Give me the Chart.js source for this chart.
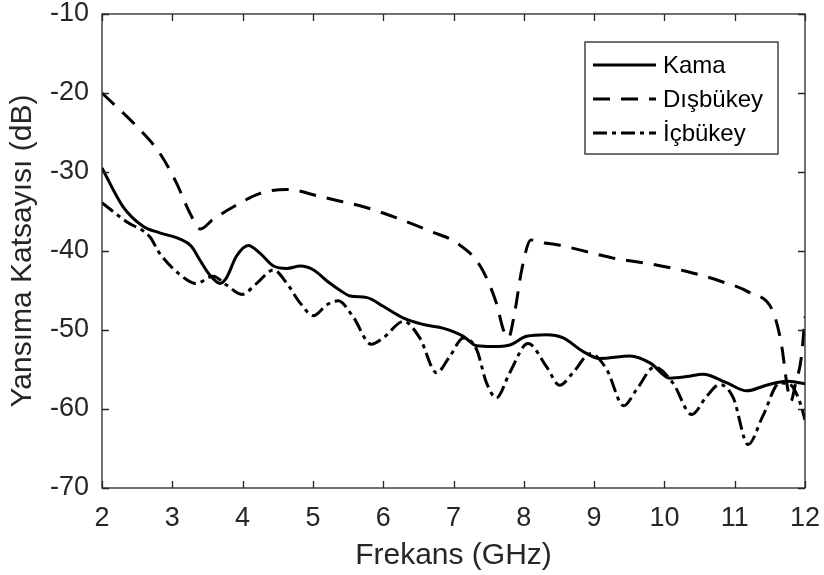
<!DOCTYPE html>
<html>
<head>
<meta charset="utf-8">
<script src="https://cdn.jsdelivr.net/npm/chart.js@4.4.1/dist/chart.umd.min.js"></script>
<style>
  html, body { margin: 0; padding: 0; background: #fff; }
  #wrap { width: 824px; height: 575px; }
</style>
</head>
<body>
<div id="wrap"><canvas id="grafik"></canvas></div>
<script>
/* Veriler */

const seriesNames = ["Kama", "Dışbükey", "İçbükey"];

const kamaFreq = [2.00, 2.30, 2.59, 2.82, 3.11, 3.27, 3.39, 3.53, 3.68, 3.77, 3.91, 4.08, 4.25, 4.44, 4.63, 4.82, 5.01, 5.20, 5.39, 5.53, 5.77, 6.00, 6.29, 6.57, 6.86, 7.14, 7.33, 7.56, 7.80, 8.04, 8.32, 8.56, 8.84, 9.08, 9.51, 9.80, 10.08, 10.32, 10.55, 10.89, 11.17, 11.45, 11.74, 12.00];
const kamaDb = [-29.5, -34.4, -36.9, -37.7, -38.5, -39.4, -41.1, -43.0, -44.1, -43.4, -40.7, -39.3, -40.3, -41.9, -42.2, -41.9, -42.4, -43.8, -45.0, -45.7, -45.9, -47.0, -48.5, -49.3, -49.8, -50.8, -52.0, -52.1, -51.9, -50.8, -50.6, -51.0, -52.7, -53.6, -53.3, -54.2, -56.1, -55.9, -55.6, -56.7, -57.7, -57.0, -56.5, -56.8];

const disFreq = [2.00, 2.49, 2.82, 3.06, 3.25, 3.40, 3.58, 3.87, 4.25, 4.63, 5.10, 5.39, 5.72, 6.19, 6.67, 7.05, 7.38, 7.61, 7.71, 7.78, 7.87, 7.97, 8.10, 8.30, 8.47, 8.99, 9.27, 9.84, 10.32, 10.79, 11.22, 11.55, 11.67, 11.74, 11.80, 11.86, 11.95, 12.00];
const disDb = [-20.0, -24.2, -27.6, -31.4, -35.2, -37.2, -36.0, -34.4, -32.7, -32.2, -33.1, -33.7, -34.4, -35.8, -37.5, -39.0, -41.9, -46.6, -50.0, -51.0, -47.8, -42.4, -38.6, -39.0, -39.2, -40.3, -40.9, -41.7, -42.6, -43.8, -45.3, -47.8, -52.1, -56.7, -59.0, -57.0, -53.3, -48.3];

const icFreq = [2.00, 2.35, 2.68, 2.82, 3.20, 3.34, 3.58, 3.77, 3.99, 4.20, 4.44, 4.63, 4.82, 5.01, 5.20, 5.36, 5.57, 5.83, 6.00, 6.29, 6.52, 6.76, 6.95, 7.14, 7.33, 7.47, 7.61, 7.80, 8.06, 8.32, 8.51, 8.70, 8.95, 9.18, 9.42, 9.60, 9.86, 10.12, 10.39, 10.60, 10.79, 10.98, 11.19, 11.40, 11.64, 11.79, 11.93, 12.00];
const icDb = [-33.9, -36.3, -38.2, -40.3, -43.6, -44.1, -43.2, -44.3, -45.5, -44.1, -42.4, -44.1, -46.6, -48.2, -46.8, -46.3, -48.3, -51.8, -51.0, -48.9, -51.0, -55.4, -53.3, -51.0, -52.5, -56.7, -58.6, -55.4, -51.7, -54.6, -57.0, -55.4, -53.0, -55.0, -59.6, -57.6, -54.7, -56.7, -60.7, -58.4, -56.9, -58.6, -64.5, -60.9, -56.7, -56.9, -59.2, -61.4];

const xTicks = [2, 3, 4, 5, 6, 7, 8, 9, 10, 11, 12];
const yTicks = [-70, -60, -50, -40, -30, -20, -10];

/* Stil */

const fontAile = "'Liberation Sans', Arial, Helvetica, sans-serif";
const eksenRengi = "#262626";
const cizgiler = [
  { dash: [], width: 3 },
  { dash: [17, 11], width: 3 },
  { dash: [14, 5, 4, 5], width: 3 }
];

const noktalar = (xs, ys) => xs.map((x, i) => ({ x: x, y: ys[i] }));
const veriSetleri = [
  noktalar(kamaFreq, kamaDb),
  noktalar(disFreq, disDb),
  noktalar(icFreq, icDb)
];

/* Çerçeve, içe dönük tikler ve lejant */

const cerceveEklentisi = {
  id: "cerceve",
  afterDraw(chart) {
    const ctx = chart.ctx;
    const a = chart.chartArea;
    const sx = chart.scales.x;
    const sy = chart.scales.y;
    ctx.save();
    ctx.strokeStyle = eksenRengi;
    ctx.lineWidth = 1.3;
    ctx.strokeRect(a.left, a.top, a.right - a.left, a.bottom - a.top);
    const tl = 7;
    ctx.beginPath();
    xTicks.forEach(v => {
      const px = Math.round(sx.getPixelForValue(v)) + 0.5;
      ctx.moveTo(px, a.bottom); ctx.lineTo(px, a.bottom - tl);
      ctx.moveTo(px, a.top); ctx.lineTo(px, a.top + tl);
    });
    yTicks.forEach(v => {
      const py = Math.round(sy.getPixelForValue(v)) + 0.5;
      ctx.moveTo(a.left, py); ctx.lineTo(a.left + tl, py);
      ctx.moveTo(a.right, py); ctx.lineTo(a.right - tl, py);
    });
    ctx.stroke();

    // lejant kutusu
    const bx = 585, by = 42, bw = 193, bh = 112;
    ctx.fillStyle = "#fff";
    ctx.fillRect(bx, by, bw, bh);
    ctx.lineWidth = 1.3;
    ctx.strokeStyle = eksenRengi;
    ctx.strokeRect(bx, by, bw, bh);
    ctx.font = "24px " + fontAile;
    ctx.textBaseline = "middle";
    ctx.textAlign = "left";
    seriesNames.forEach((ad, i) => {
      const ry = 65 + i * 34;
      ctx.strokeStyle = "#000";
      ctx.lineWidth = cizgiler[i].width;
      ctx.setLineDash(cizgiler[i].dash);
      ctx.beginPath();
      ctx.moveTo(593, ry); ctx.lineTo(656, ry);
      ctx.stroke();
      ctx.setLineDash([]);
      ctx.fillStyle = "#000";
      ctx.fillText(ad, 663, ry + 1);
    });
    ctx.restore();
  }
};

/* Grafik */

const grafikDOM = document.getElementById("grafik");

const config = {
  type: "line",
  data: {
    datasets: seriesNames.map((ad, i) => ({
      label: ad,
      data: veriSetleri[i],
      borderColor: "#000",
      borderWidth: cizgiler[i].width,
      borderDash: cizgiler[i].dash,
      pointRadius: 0,
      fill: false,
      cubicInterpolationMode: "monotone"
    }))
  },
  options: {
    responsive: true,
    maintainAspectRatio: false,
    animation: false,
    layout: { padding: { left: 0, right: 19, top: 14, bottom: 0 } },
    plugins: {
      legend: { display: false },
      tooltip: { enabled: false }
    },
    scales: {
      x: {
        type: "linear",
        min: 2,
        max: 12,
        afterBuildTicks: (s) => { s.ticks = xTicks.map(v => ({ value: v })); },
        afterFit: (s) => {
          s.height = 87;
          s.paddingLeft = 0;
          s.paddingRight = 0;
        },
        ticks: { color: eksenRengi, font: { family: fontAile, size: 27 }, padding: 14, maxRotation: 0 },
        grid: { display: false, drawTicks: false },
        border: { display: false },
        title: {
          display: true,
          text: "Frekans (GHz)",
          color: eksenRengi,
          font: { family: fontAile, size: 30 },
          padding: { top: 1, bottom: 1 }
        }
      },
      y: {
        type: "linear",
        min: -70,
        max: -10,
        afterBuildTicks: (s) => { s.ticks = yTicks.map(v => ({ value: v })); },
        afterFit: (s) => {
          s.width = 102;
          s.paddingTop = 0;
          s.paddingBottom = 0;
        },
        ticks: { color: eksenRengi, font: { family: fontAile, size: 27 }, padding: 13 },
        grid: { display: false, drawTicks: false },
        border: { display: false },
        title: {
          display: true,
          text: "Yansıma Katsayısı (dB)",
          color: eksenRengi,
          font: { family: fontAile, size: 30 },
          padding: { top: 5, bottom: 0 }
        }
      }
    }
  },
  plugins: [cerceveEklentisi]
};

const grafik = new Chart(grafikDOM, config);
</script>
</body>
</html>
